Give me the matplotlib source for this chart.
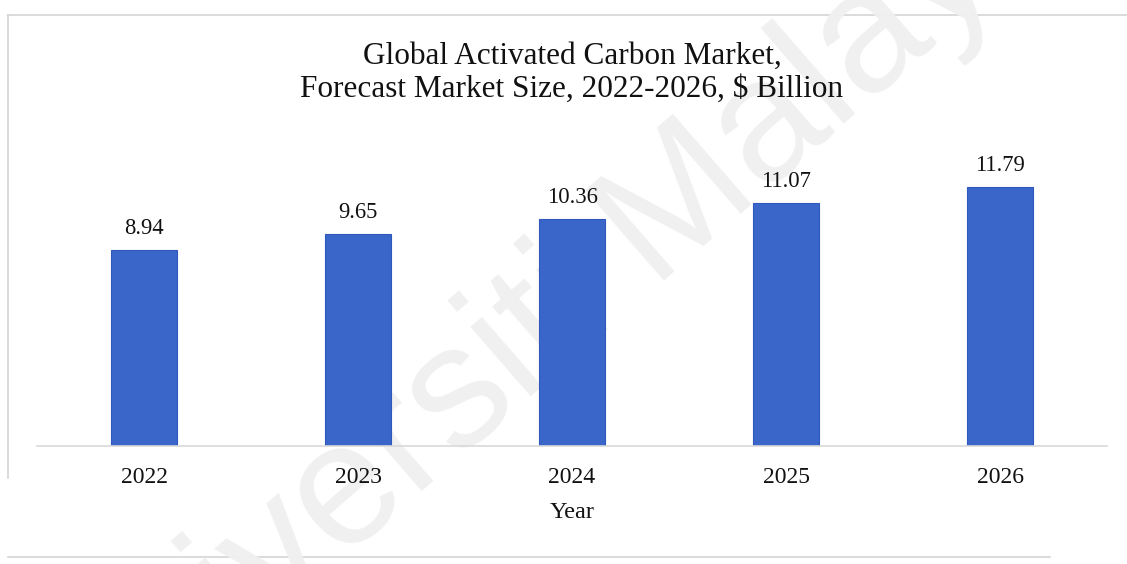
import matplotlib
matplotlib.use("Agg")
import matplotlib.pyplot as plt
from matplotlib.lines import Line2D

years = ["2022", "2023", "2024", "2025", "2026"]
market_size = [8.94, 9.65, 10.36, 11.07, 11.79]
title = "Global Activated Carbon Market,\nForecast Market Size, 2022-2026, $ Billion"
x_label = "Year"
watermark = "Universiti Malaya"

serif = ["Liberation Serif", "DejaVu Serif"]
bar_color = "#3a66c9"

fig = plt.figure(figsize=(11.27, 5.64), dpi=100)
W, H = 1127, 564

def fx(px):
    return px / W

def fy(py):
    return 1 - py / H

# light frame around the chart
for xs, ys in [((8, 1127), (15, 15)), ((8, 8), (15, 478)), ((8, 1050), (557, 557))]:
    fig.add_artist(Line2D([fx(v) for v in xs], [fy(v) for v in ys],
                          color="#d4d4d4", lw=1.2, zorder=-6))

# faint diagonal watermark behind the bars
fig.text(fx(548), fy(322), watermark, fontsize=125, family=["Liberation Sans", "DejaVu Sans"],
         color="#f0f0f0", rotation=41, ha="center", va="center", zorder=-5)

ax = fig.add_axes([fx(37), fy(446), fx(1107) - fx(37), fy(150) - fy(446)])
ax.patch.set_visible(False)

bars = ax.bar(range(len(years)), market_size, width=0.313, color=bar_color,
              edgecolor="#2f58bd", linewidth=0.8, zorder=2)
ax.set_xlim(-0.5, len(years) - 0.5)
ax.set_ylim(0, 13.5)

for rect, v in zip(bars, market_size):
    ax.annotate(f"{v:.2f}", (rect.get_x() + rect.get_width() / 2, v),
                xytext=(0, 8), textcoords="offset points", ha="center", va="bottom",
                fontsize=16.3, family=serif, color="#111111")

for side in ("top", "right", "left"):
    ax.spines[side].set_visible(False)
ax.spines["bottom"].set_color("#d9d9d9")
ax.spines["bottom"].set_linewidth(1.2)
ax.set_yticks([])
ax.set_xticks(range(len(years)))
ax.set_xticklabels(years, fontsize=17, family=serif, color="#111111")
ax.tick_params(axis="x", length=0, pad=15)
ax.set_xlabel(x_label, fontsize=17.5, family=serif, color="#111111", labelpad=10)

fig.text(fx(572), fy(73), title, ha="center", va="center", fontsize=22.5,
         family=serif, color="#111111", linespacing=1.2)

fig.savefig("out.png", dpi=100, facecolor="white")
